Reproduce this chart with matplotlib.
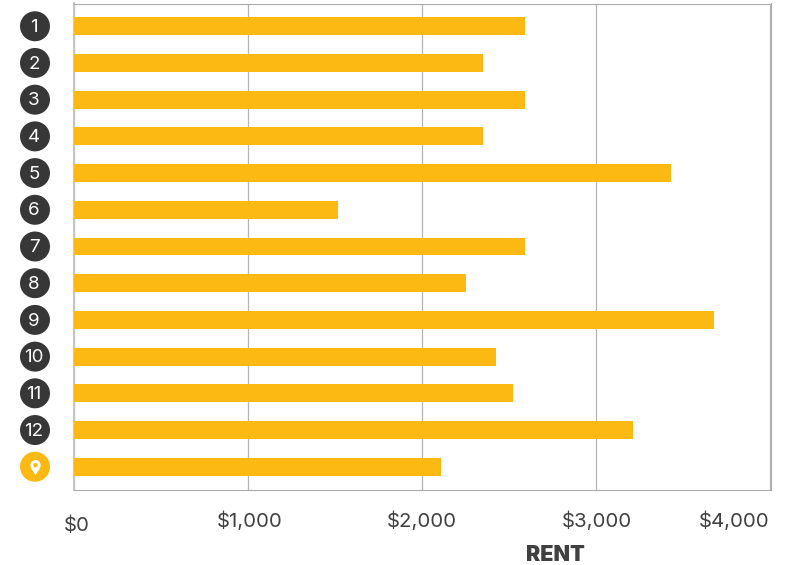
import numpy as np
import matplotlib
matplotlib.use('Agg')
import matplotlib.pyplot as plt
from matplotlib.path import Path
from matplotlib.transforms import ScaledTranslation

plt.rcParams['font.family'] = ['Inter', 'DejaVu Sans']

# Data
rank_labels = ['1', '2', '3', '4', '5', '6', '7', '8', '9', '10', '11', '12', '']
rents = [2592, 2350, 2592, 2350, 3430, 1518, 2592, 2253, 3677, 2425, 2523, 3212, 2110]
tick_values = [0, 1000, 2000, 3000, 4000]
tick_labels = ['$0', '$1,000', '$2,000', '$3,000', '$4,000']

BAR = '#FDB913'
DARK = '#373737'
TEXT = '#404040'

W, H = 788, 565
fig = plt.figure(figsize=(W / 100, H / 100), dpi=100)
ax = fig.add_axes([73.5 / W, 1 - 489.5 / H, 697 / W, 486 / H])

y = np.arange(len(rents))
ax.barh(y, rents, height=0.49, color=BAR, zorder=3)
ax.set_xlim(0, 4001)
ax.set_ylim(12.62, -0.62)
ax.set_yticks([])

ax.set_xticks(tick_values)
ax.set_xticklabels(tick_labels, fontsize=14.7, color=TEXT)
ax.tick_params(axis='x', length=0, pad=16)
ax.grid(axis='x', color='#b4b4b4', linewidth=0.9, zorder=1)

for side in ['top', 'right', 'bottom']:
    ax.spines[side].set_color('#aaaaaa')
    ax.spines[side].set_linewidth(0.8)
ax.spines['left'].set_color('#c4c4c4')
ax.spines['left'].set_linewidth(1.4)

# Nudge the end labels the way the original has them
offsets = [(3, -4.5), (1.5, 0), (0, 0), (1, 0), (-36, 0)]
for lab, (dx, dy) in zip(ax.get_xticklabels(), offsets):
    lab.set_transform(lab.get_transform() + ScaledTranslation(dx / 100, dy / 100, fig.dpi_scale_trans))

# Rank badges to the left of the axis
badge_x = (35 - 73.5) / 697
trans = ax.get_yaxis_transform()
colors = [DARK] * 12 + [BAR]
ax.scatter([badge_x] * len(y), y, s=(30 * 0.72) ** 2, color=colors, transform=trans,
           clip_on=False, zorder=4, linewidths=0)
text_x = (34 - 73.5) / 697
for i, lab in enumerate(rank_labels):
    ax.text(text_x, i + 0.03, lab, transform=trans, ha='center', va='center',
            color='white', fontsize=13.5, zorder=5)

# Pin icon in the last badge
outer = Path(
    [(0, -1.55), (-0.25, -0.9), (-1, -0.3), (-1, 0.45),
     (-1, 1.0), (-0.55, 1.45), (0, 1.45),
     (0.55, 1.45), (1, 1.0), (1, 0.45),
     (1, -0.3), (0.25, -0.9), (0, -1.55), (0, -1.55)],
    [Path.MOVETO] + [Path.CURVE4] * 12 + [Path.CLOSEPOLY])
t = np.linspace(0, 2 * np.pi, 40)
hole = Path(np.column_stack([0.42 * np.cos(t), 0.45 + 0.42 * np.sin(t)]), closed=True)
pin = Path.make_compound_path(outer, hole)
ax.scatter([badge_x], [y[-1]], s=(16 * 0.72) ** 2, marker=pin, color='white',
           transform=trans, clip_on=False, zorder=5, linewidths=0)

fig.text(555.5 / W, 1 - 555 / H, 'RENT', ha='center', va='center', fontsize=15.5,
         fontweight='black', color=TEXT)

fig.savefig('out.png', dpi=100)
